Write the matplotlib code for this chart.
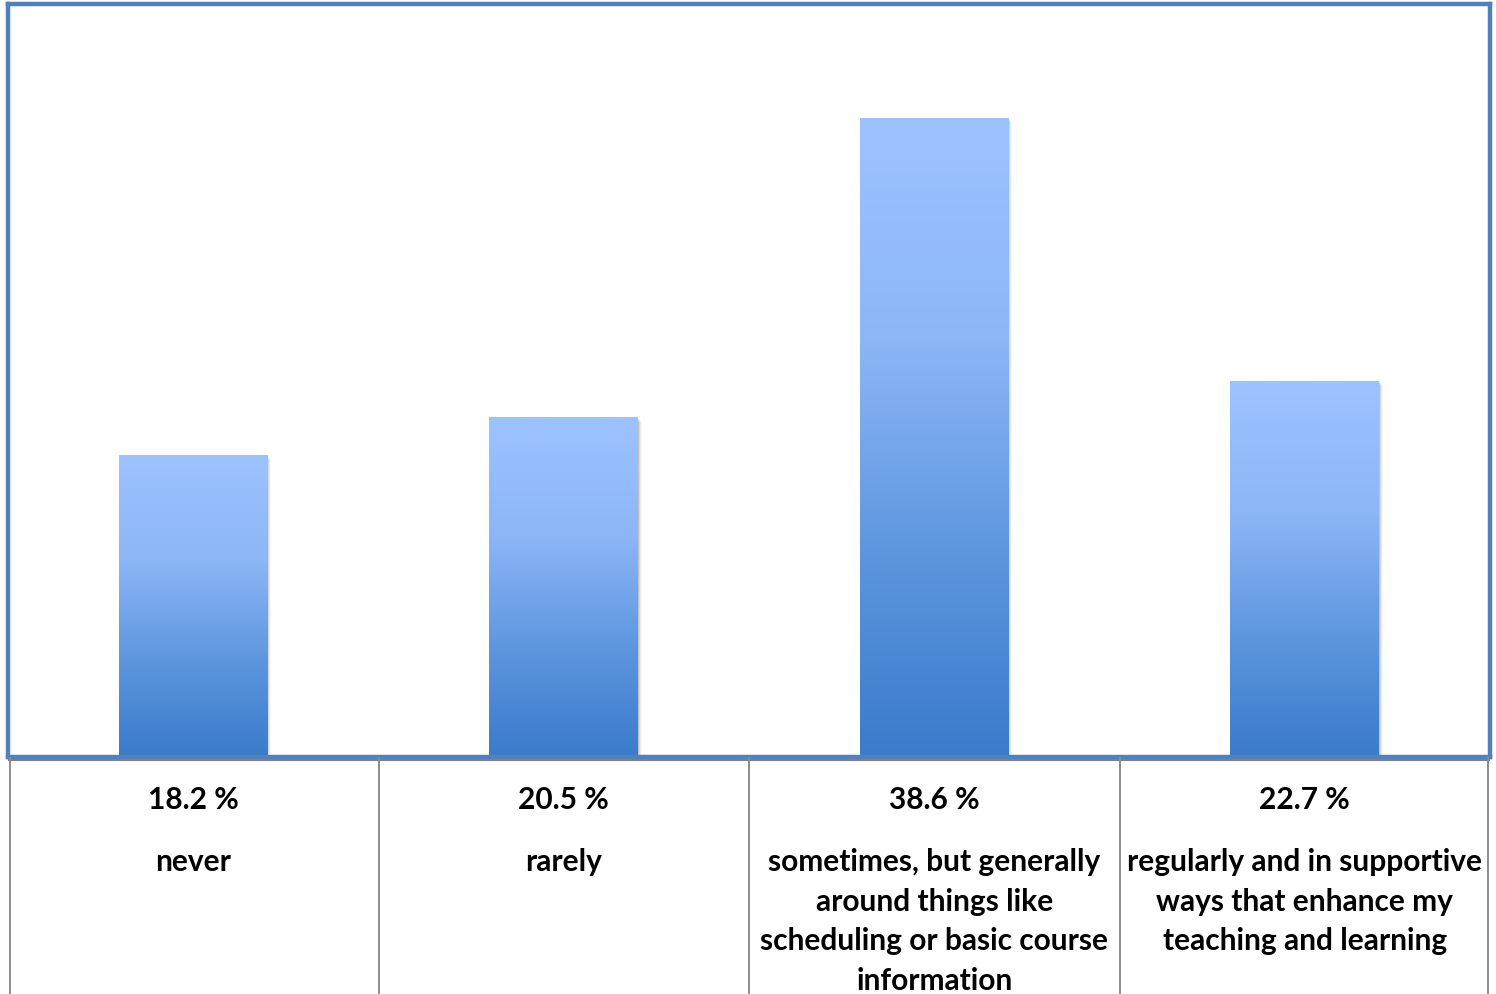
import numpy as np
import matplotlib.pyplot as plt
from matplotlib.colors import LinearSegmentedColormap


#Data
#-----------------------------------------------------------------------------------
categories = ["never",
              "rarely",
              "sometimes, but generally\naround things like\nscheduling or basic course\ninformation",
              "regularly and in supportive\nways that enhance my\nteaching and learning"]
percent = [18.2, 20.5, 38.6, 22.7]
#-----------------------------------------------------------------------------------


#Plot
#-----------------------------------------------------------------------------------
W, H = 1496, 995
fig = plt.figure(figsize=(W / 100, H / 100), dpi=100)
plt.rcParams['font.family'] = ['Lato', 'DejaVu Sans']

ax = fig.add_axes([8 / W, 1 - 758 / H, 1482 / W, 753 / H])

grad = LinearSegmentedColormap.from_list(
    "bar", [(0, "#3a7bcb"), (0.3, "#5b94dd"), (0.65, "#8cb6f6"), (1, "#9dc3ff")])
width = 0.40
px_x = 1 / 370.5
px_y = 45.5 / 753

for i, v in enumerate(percent):
    x0 = i - width / 2
    # soft shadow
    for k, a in zip([1, 2, 3, 4], [0.10, 0.08, 0.05, 0.03]):
        ax.add_patch(plt.Rectangle((x0 + k * px_x, -1), width, v + 1 - k * px_y,
                                   color="#000000", alpha=a, lw=0, zorder=1))
    img = np.linspace(0, 1, 256).reshape(-1, 1)
    ax.imshow(img, cmap=grad, origin="lower", aspect="auto",
              extent=(x0 - 0.5 * px_x, x0 + width - 0.5 * px_x, 0, v), zorder=2,
              interpolation="bilinear")

ax.set_xlim(-0.5, len(percent) - 0.5)
ax.set_ylim(0, 45.5)
ax.set_xticks([])
ax.set_yticks([])
for s in ax.spines.values():
    s.set_color("#4f81bd")
    s.set_linewidth(3.2)

# table under the plot
tab = fig.add_axes([8 / W, 0, 1482 / W, 1 - 758 / H])
tab.set_xlim(-0.5, len(percent) - 0.5)
tab.set_ylim(237, 0)
tab.axis("off")
tab.axhline(2.5, color="#808080", lw=1.5)
for b in np.arange(len(percent) + 1) - 0.5:
    tab.axvline(b + (0.006 if b < 0 else 0) - (0.006 if b > len(percent) - 1 else 0),
                color="#8c8c8c", lw=1.4)

for i, (c, v) in enumerate(zip(categories, percent)):
    tab.text(i, 42, f"{v} %", ha="center", va="center", fontsize=21.5, fontweight="bold")
    tab.text(i, 90, c, ha="center", va="top", fontsize=21.5, fontweight="bold",
             linespacing=1.5)

fig.savefig("out.png", dpi=100)
#-----------------------------------------------------------------------------------
